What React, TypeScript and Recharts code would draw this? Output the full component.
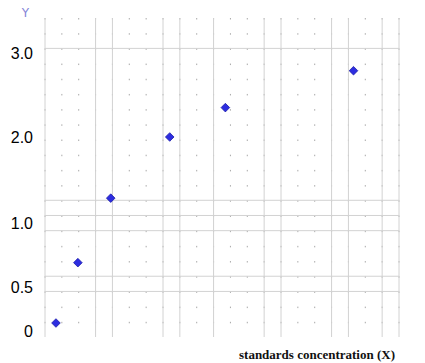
import { CartesianGrid, Scatter, ScatterChart, XAxis, YAxis, Label } from 'recharts'

// concentration, read in graph-paper columns (21 columns across the plot)
const concentration = [0.65, 1.95, 3.9, 7.4, 10.7, 18.3]
// response values, read against the hand-written Y labels
const response = [0.09, 0.69, 1.29, 2.0, 2.35, 2.79]
const yTicks = [0, 0.5, 1, 2, 3]

// the paper's Y labels are not evenly spaced: knots and where they sit (fraction of plot height from bottom)
const yKnots = [-0.07, 0, 0.5, 1, 2, 3, 3.42]
const yStops = [0, 0.019, 0.157, 0.357, 0.627, 0.89, 1]

const COLS = 21
const ROWS = 21
const solidCols = [0, 3, 4, 7, 8, 10, 13, 14, 17, 18, 20, 21]
const solidRows = [2, 12, 13, 14, 17, 18]

const data = concentration.map((x, i) => ({ x, y: response[i] }))

function paperScale(knots: number[], stops: number[]): any {
  let range = [0, 1]
  let dom = [knots[0], knots[knots.length - 1]]
  const scale: any = (v: number) => {
    let i = 0
    while (i < knots.length - 2 && v > knots[i + 1]) i++
    const t = (v - knots[i]) / (knots[i + 1] - knots[i])
    const f = stops[i] + t * (stops[i + 1] - stops[i])
    return range[0] + f * (range[1] - range[0])
  }
  scale.domain = (d?: number[]) => {
    if (d) {
      dom = d
      return scale
    }
    return dom
  }
  scale.range = (r?: number[]) => {
    if (r) {
      range = [...r]
      return scale
    }
    return range
  }
  scale.copy = () => paperScale(knots, stops).domain(dom).range(range)
  scale.ticks = () => yTicks
  return scale
}

const Dot = (props: any) => {
  const { cx, cy } = props
  if (cx == null || cy == null) return null
  const r = 4.3
  return (
    <polygon
      points={`${cx},${cy - r} ${cx + r},${cy} ${cx},${cy + r} ${cx - r},${cy}`}
      fill="#2d2de0"
      stroke="#1c1ca8"
      strokeWidth={0.8}
    />
  )
}

export default function App() {
  const rowH = 319 / ROWS
  return (
    <div style={{ position: 'absolute', left: 0, top: 0, width: 425, height: 363, background: '#fff' }}>
      <ScatterChart width={425} height={363} margin={{ top: 18, right: 26, bottom: 0, left: 0 }}>
        {/* dots at every paper intersection */}
        <CartesianGrid
          horizontal={false}
          stroke="#a8a8a8"
          strokeDasharray={`1.5 ${rowH - 1.5}`}
          verticalCoordinatesGenerator={({ offset }: any) =>
            Array.from({ length: COLS + 1 }, (_, i) => offset.left + (i * offset.width) / COLS)
          }
        />
        {/* heavier ruled lines */}
        <CartesianGrid
          stroke="#d2d2d2"
          verticalCoordinatesGenerator={({ offset }: any) =>
            solidCols.map(i => offset.left + (i * offset.width) / COLS)
          }
          horizontalCoordinatesGenerator={({ offset }: any) =>
            solidRows.map(i => offset.top + (i * offset.height) / ROWS)
          }
        />
        <XAxis
          type="number"
          dataKey="x"
          domain={[0, COLS]}
          tick={false}
          axisLine={false}
          tickLine={false}
          height={26}
        >
          <Label
            value="standards concentration (X)"
            position="insideBottomRight"
            offset={4}
            style={{
              fontFamily: '"Liberation Serif", serif',
              fontSize: 13,
              fontWeight: 'bold',
              fill: '#111',
            }}
          />
        </XAxis>
        <YAxis
          type="number"
          dataKey="y"
          width={45}
          scale={paperScale(yKnots, yStops)}
          domain={[yKnots[0], yKnots[yKnots.length - 1]]}
          ticks={yTicks}
          interval={0}
          allowDataOverflow
          axisLine={false}
          tickLine={false}
          tickSize={0}
          tickMargin={12}
          tickFormatter={(v: number) => (v === 0 ? '0' : v.toFixed(1))}
          tick={{ fontFamily: '"Liberation Sans", Arial, sans-serif', fontSize: 16, fill: '#000' }}
        >
          <Label
            value="Y"
            position="top"
            offset={1}
            dx={3}
            style={{ fontFamily: '"DejaVu Sans", sans-serif', fontSize: 12, fill: '#8484d8' }}
          />
        </YAxis>
        <Scatter data={data} shape={<Dot />} isAnimationActive={false} />
      </ScatterChart>
    </div>
  )
}
